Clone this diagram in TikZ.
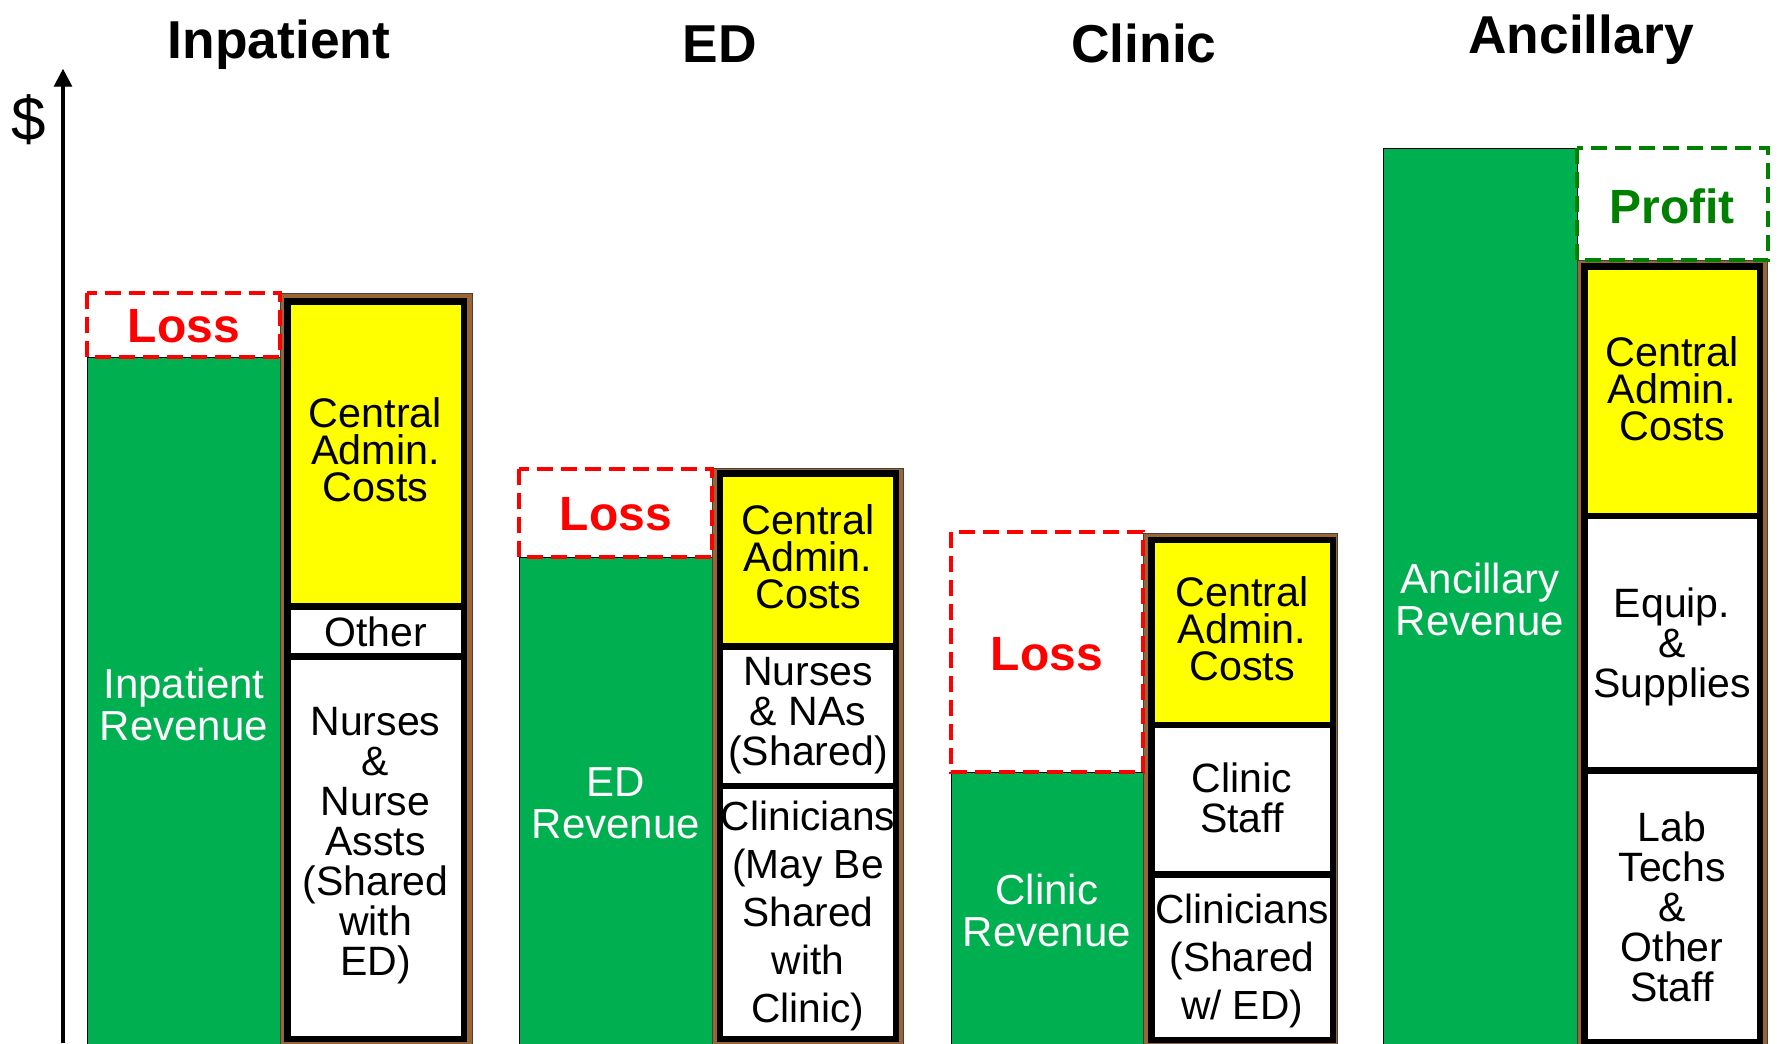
\documentclass[tikz,border=0pt]{standalone}
\usepackage{fontspec}
\setmainfont{Liberation Sans}

\begin{document}
\begin{tikzpicture}[x=0.75pt,y=0.75pt,yscale=-1,xscale=1,
  revbar/.style={fill={rgb, 255:red, 0; green, 176; blue, 80 }, draw={rgb, 255:red, 0; green, 0; blue, 0 }, line width=0.75},
  lossbox/.style={draw={rgb, 255:red, 255; green, 0; blue, 0 }, line width=3, dash pattern={on 12pt off 6pt}},
  profitbox/.style={draw={rgb, 255:red, 0; green, 128; blue, 0 }, line width=3, dash pattern={on 12pt off 6pt}},
  costframe/.style={fill={rgb, 255:red, 153; green, 102; blue, 51 }, draw={rgb, 255:red, 64; green, 64; blue, 64 }, line width=0.75},
  costcell/.style={fill={rgb, 255:red, 255; green, 255; blue, 255 }, draw={rgb, 255:red, 0; green, 0; blue, 0 }, line width=4.75},
  admincell/.style={costcell, fill={rgb, 255:red, 255; green, 255; blue, 0 }},
  titletext/.style={anchor=base, inner sep=0.75pt, font=\bfseries\fontsize{40}{40}\selectfont},
  losstext/.style={inner sep=0.75pt, color={rgb, 255:red, 255; green, 0; blue, 0 }, font=\bfseries\fontsize{36}{36}\selectfont},
  profittext/.style={inner sep=0.75pt, color={rgb, 255:red, 0; green, 128; blue, 0 }, font=\bfseries\fontsize{36}{36}\selectfont},
  revtext/.style={inner sep=0.75pt, align=center, color=white, font=\fontsize{31.5}{31.5}\selectfont},
  admintext/.style={inner sep=0.75pt, align=center, font=\fontsize{31}{27.75}\selectfont},
  celltext/.style={inner sep=0.75pt, align=center, font=\fontsize{30.75}{30}\selectfont},
  widetext/.style={inner sep=0.75pt, align=center, font=\fontsize{30.5}{36}\selectfont}
]
\clip (0,0) rectangle (1781,1043) ;

%Axis
\coordinate (axisfoot) at (63,1043) ;
\coordinate (axisbase) at (63,82) ;
\coordinate (axistop) at (63,70) ;
\draw [line width=2.5]  (axisfoot) -- (axisbase) ;
\draw [shift={(axistop)}, rotate = 90] [fill={rgb, 255:red, 0; green, 0; blue, 0 }][line width=0.75]  (16,-8.5) -- (0,0) -- (16,8.5) -- cycle ;

%Inpatient: revenue, loss, costs
\draw [revbar]  (87,357) rectangle (280,1060) ;
\draw [costframe]  (280,293) rectangle (472,1060) ;
\draw [lossbox]  (87,293) rectangle (280,357) ;
\draw [admincell]  (287.5,301.5) rectangle (464,606.5) ;
\draw [costcell]  (287.5,606.5) rectangle (464,656.5) ;
\draw [costcell]  (287.5,656.5) rectangle (464,1039) ;

%ED: revenue, loss, costs
\draw [revbar]  (519,557) rectangle (712,1060) ;
\draw [costframe]  (712,468) rectangle (903,1060) ;
\draw [lossbox]  (519,469) rectangle (712,557) ;
\draw [admincell]  (720,473.5) rectangle (896,646.5) ;
\draw [costcell]  (720,646.5) rectangle (896,786) ;
\draw [costcell]  (720,786) rectangle (896,1039) ;

%Clinic: revenue, loss, costs
\draw [revbar]  (951,772) rectangle (1143,1060) ;
\draw [costframe]  (1143,533) rectangle (1337,1060) ;
\draw [lossbox]  (951,532) rectangle (1143,772) ;
\draw [admincell]  (1151.5,540) rectangle (1333,725) ;
\draw [costcell]  (1151.5,725) rectangle (1333,874.5) ;
\draw [costcell]  (1151.5,874.5) rectangle (1333,1040) ;

%Ancillary: revenue, profit, costs
\draw [revbar]  (1383,148) rectangle (1577,1060) ;
\draw [costframe]  (1577,260) rectangle (1767,1060) ;
\draw [profitbox]  (1577,148) rectangle (1768,260) ;
\draw [admincell]  (1584.5,266.5) rectangle (1760,516) ;
\draw [costcell]  (1584.5,516) rectangle (1760,770.5) ;
\draw [costcell]  (1584.5,770.5) rectangle (1760,1042) ;

% Text Node
\node (dollar) at (29,120) [inner sep=0.75pt, font=\fontsize{46.5}{46.5}\selectfont] {\$};
% Text Node
\node (ipTitle) at (279,58) [titletext] {Inpatient};
% Text Node
\node (edTitle) at (720,62) [titletext] {ED};
% Text Node
\node (clTitle) at (1144,62) [titletext] {Clinic};
% Text Node
\node (anTitle) at (1581,53) [titletext] {Ancillary};

% Text Node
\node (ipLoss) at (184,326) [losstext] {Loss};
% Text Node
\node (ipRev) at (184,704) [revtext] {Inpatient\\Revenue};
% Text Node
\node (ipAdmin) at (375.5,450) [admintext] {Central\\Admin.\\Costs};
% Text Node
\node (ipOther) at (375.5,632) [celltext] {Other};
% Text Node
\node (ipNurses) at (375.5,846) [celltext] {Nurses\\\&\\Nurse\\Assts\\(Shared\\with\\ED)};

% Text Node
\node (edLoss) at (616,514) [losstext] {Loss};
% Text Node
\node (edRev) at (616,803) [revtext] {ED\\Revenue};
% Text Node
\node (edAdmin) at (808,557) [admintext] {Central\\Admin.\\Costs};
% Text Node
\node (edNurses) at (808,716) [celltext] {Nurses\\\& NAs\\(Shared)};
% Text Node
\node (edClin) at (808,916) [widetext] {Clinicians\\(May Be\\Shared\\with\\Clinic)};

% Text Node
\node (clLoss) at (1047,654) [losstext] {Loss};
% Text Node
\node (clRev) at (1047,910) [revtext] {Clinic\\Revenue};
% Text Node
\node (clAdmin) at (1242,629) [admintext] {Central\\Admin.\\Costs};
% Text Node
\node (clStaff) at (1242,798) [celltext] {Clinic\\Staff};
% Text Node
\node (clClin) at (1242,961) [widetext] {Clinicians\\(Shared\\w/ ED)};

% Text Node
\node (anRev) at (1480,599) [revtext] {Ancillary\\Revenue};
% Text Node
\node (anProfit) at (1672,206) [profittext] {Profit};
% Text Node
\node (anAdmin) at (1672,389) [admintext] {Central\\Admin.\\Costs};
% Text Node
\node (anEquip) at (1672,647) [celltext] {Equip.\\\&\\Supplies};
% Text Node
\node (anLab) at (1672,907) [celltext] {Lab\\Techs\\\&\\Other\\Staff};

\end{tikzpicture}
\end{document}
